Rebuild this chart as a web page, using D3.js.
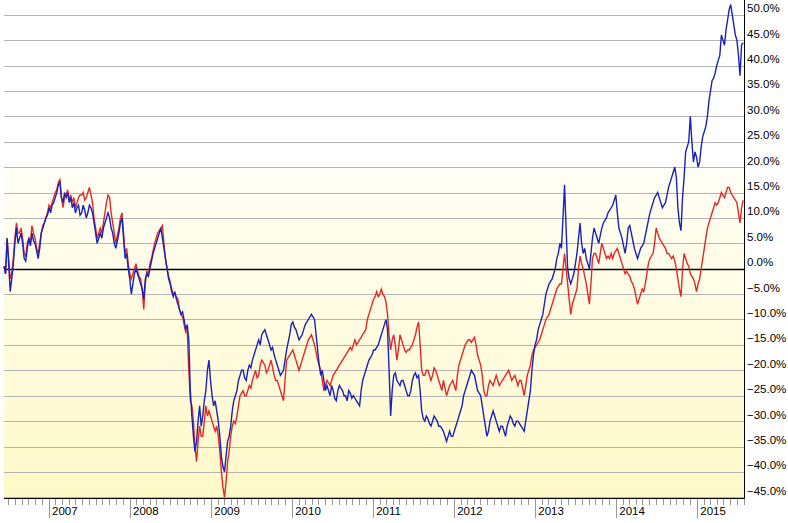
<!DOCTYPE html>
<html>
<head>
<meta charset="utf-8">
<script src="https://cdn.jsdelivr.net/npm/d3@7"></script>
<style>
  body { margin: 0; background: #ffffff; }
  text { font-family: "Liberation Sans", Arial, sans-serif; }
</style>
</head>
<body>
<svg id="chart" width="788" height="523"></svg>
<script>
// Weekly readings, starting from the first trading week shown
var startDate = "2006-06-14";
var stepDays = 7;

var blueValues = [
  0.5, -1, 6, 1, -4.5, -2, 1, 5, 8, 5, 6, 7, 5, 2, 1.5, 4, 6, 4.5, 7, 5.5,
  5, 3.5, 2, 4, 7, 8, 9, 10, 10.5, 12, 11, 12.5, 13, 14, 15, 16.5, 17, 14, 13, 15,
  14, 15, 13, 14, 12, 13, 11, 12, 12.5, 10.5, 11, 12.5, 11.5, 10, 11, 12.5, 12, 11, 9, 7,
  5, 6, 7, 6, 8, 9, 10, 11, 10, 8, 7, 5, 4, 5.5, 7, 9, 10, 6, 2, 3,
  0, -2, -5, -3, -1, 0, -1, -2, -3, -4, -6, -2, -1, -1.5, 0, 1.5, 3, 4, 5, 6,
  7, 8, 6, 4, 2, 0, -2, -3, -4.5, -5.5, -4.5, -6, -7, -8, -9, -8.5, -10, -12, -11, -14,
  -24, -29, -33, -36, -34, -30, -27, -31, -29, -26, -24, -20, -18, -22, -25, -27, -26, -28, -30, -33,
  -37, -39, -40, -37, -34, -33, -31, -28, -26, -25, -24, -22, -21, -20, -20, -21.5, -22, -20, -19, -19.5,
  -18, -17, -16, -15, -14, -15, -13, -12.5, -12, -13, -14, -15, -16, -15.5, -17, -18, -19, -20, -21, -20.5,
  -20, -18, -16, -14.5, -13, -11, -10.5, -11.5, -12, -13, -14, -13.5, -13, -12, -11, -10.5, -10, -9.5, -9, -9.5,
  -10, -13, -16, -19, -21, -20, -22, -24, -23, -24, -25, -23, -24, -25.5, -26, -24, -23, -23.5, -24, -25,
  -25, -26, -24, -24.5, -25.5, -25, -25.5, -26, -26.5, -27, -24, -22, -21, -20, -19, -18, -17.5, -17, -16, -16, -15.5,
  -15, -14, -13, -12, -11, -10, -12, -20, -29, -24, -21, -20.5, -22, -22.5, -23, -22, -22, -23, -24, -25,
  -25, -24, -22, -21, -20.5, -21.5, -21, -24, -28, -29.5, -30, -29, -29.5, -30.5, -31, -30, -29, -29.5, -30, -31,
  -31, -31.5, -32, -33, -34, -33, -32, -33, -33, -32, -31, -30, -29, -28, -27, -25, -24, -23, -22, -21,
  -20, -20.5, -21, -22.5, -24, -24.5, -25, -27, -29, -31, -33, -32, -30, -29, -28, -29, -30, -31, -32, -31,
  -31, -32, -33, -31, -30, -29, -29.5, -30.5, -31, -30, -30, -30.5, -31, -31.5, -32, -30, -28, -26, -24, -20,
  -17, -15, -14, -12, -11, -10, -9, -7, -5, -4, -3, -2.5, -2, -1, 0, 2, 3, 5, 4, 10,
  16.5, 8, 0, -2, -3, -2, -1, 1, 3, 6, 9, 5, 3, 4, 2, 1, 0, 3, 6, 8,
  7, 6, 5, 6.5, 8, 9, 9.5, 10, 11, 11.5, 12, 12.5, 13.5, 14.5, 11, 8, 7, 6, 4.5, 3, 5,
  8, 8.5, 7, 5.5, 4, 3, 2, 3, 4, 4.5, 5, 6.5, 8, 9.5, 11, 12, 13, 14, 14.5, 15,
  14, 13, 12, 12.5, 13, 14.5, 16, 17, 18, 19, 20, 18, 12, 9, 7.5, 14, 18, 23, 24, 25,
  30, 25, 21, 23, 22, 20, 21, 24, 26, 27, 28, 30, 33, 35, 37, 37.5, 38.5, 40, 41, 42,
  46, 45, 44, 47, 49, 51, 52, 50, 48, 46, 45, 42, 38, 44, 44.5
];

var redValues = [
  0.5, -1, 6, 2, -2, -1, 2, 6, 9, 7, 7, 8, 6, 3, 2.5, 5, 6, 5, 8.5, 7,
  6, 4, 3, 5, 7, 8.5, 9, 10, 11, 12.5, 12, 13, 14, 15, 15.5, 17, 17.5, 14, 12, 14,
  14.5, 15.5, 13.5, 14.5, 13, 14, 12, 13, 14, 14.5, 14.5, 15, 13.5, 14, 15, 16, 14.5, 13, 10, 8,
  6, 7, 8, 7, 9, 11, 13, 14.5, 14, 11, 9, 7, 5, 6.5, 8, 10, 11, 7, 3, 4,
  1, -1, -2, -1, 0, 1, -0.5, -1.5, -2, -4, -8, -3, -0.5, -1, 1, 2, 3.5, 5, 6, 7,
  7.5, 8, 8.5, 5, 2, 0, -1.5, -2.5, -4, -5, -5, -5.5, -6, -8, -9, -9.5, -11, -12.5, -12, -20,
  -26, -27, -30, -35, -38, -34, -31, -33, -33, -30, -27, -29, -28, -29, -30, -31, -32, -31, -33, -36,
  -40, -43, -45, -42, -38, -36, -33, -31, -30, -30.5, -29, -27, -25, -24.5, -24, -25, -25, -24, -23, -23.5,
  -22, -21, -20, -21.5, -21, -19, -18, -18.5, -19, -20.5, -20, -19, -18, -19.5, -21, -22, -22, -23, -24, -25,
  -26, -22, -18, -17.5, -17, -16.5, -16, -17, -18, -19, -20, -19, -18, -17, -16, -15, -14, -13.5, -13, -14,
  -15, -16.5, -18, -19, -20, -22, -24, -23, -22, -22.5, -23, -22, -21, -20.5, -20, -19.5, -19, -18.5, -18, -17.5,
  -17, -16.5, -16, -15.5, -16, -15, -14, -15, -14.5, -14, -13.5, -13, -12.5, -12, -10, -9, -8, -7, -6, -5.5, -4.5,
  -5.5, -5, -4, -5, -5.5, -6.5, -9, -13, -16, -14, -13, -15, -18, -16, -13, -14, -15, -16, -16.5, -16,
  -16, -15.5, -15, -14, -13, -11.5, -10.5, -15, -20, -21, -21, -20, -20, -21, -22, -21, -19.5, -20, -21, -22,
  -23, -24, -22, -23.5, -25, -24, -23, -22.5, -22, -23, -24, -21, -19, -18, -17, -16, -15, -14.5, -14, -14,
  -14.5, -14, -13.5, -15, -17, -18, -19, -21, -24, -25, -25, -23, -22, -22.5, -23, -22, -21, -22, -23, -22.5,
  -22, -21.5, -21, -20.5, -20, -21, -22, -21.5, -21, -22, -23, -22, -22, -23.5, -25, -23, -21, -20, -19, -17,
  -16, -15.5, -15, -14.5, -14, -13, -12, -11, -10, -9.5, -9, -8, -7, -6, -5, -4, -3.5, -3, -3, 0,
  3, 0, -3, -6, -9, -7, -6, -5, -4, 0, 2.5, 1, 0, -1.5, -3, -5, -7, -3, 2, 3,
  3, 2, 1, 3, 5, 4, 3, 2, 2.5, 2, 3, 2, 3, 3.5, 4, 3, 2, 1, 0, -1, -0.5,
  -1, -1.5, -2.5, -3, -4, -5.5, -7, -6, -5, -4, -4.5, -3, -1, 1, 2, 2.5, 3, 5, 8, 7,
  6, 5.5, 5, 4.5, 4, 3, 3, 2.5, 2, 2.5, 1.5, 0, -2, -4, -5.5, 0, 3, 2, 1, 0.5,
  -1, -1.5, -2, -3, -4.5, -3, -2, 0, 2, 4, 6, 8, 9, 10, 11, 12, 13, 12.5, 13, 14,
  15, 14.5, 14, 15, 16, 16, 15, 14.5, 14, 13.5, 13, 11, 9, 12, 13.5
];

var yTicks = [50, 45, 40, 35, 30, 25, 20, 15, 10, 5, 0, -5, -10, -15, -20, -25, -30, -35, -40, -45];
var domainStart = "2006-06-14";
var domainEnd = "2015-08-02";

// Layout
var plot = { left: 4, right: 744, top: 0, bottom: 498 };

var parse = d3.timeParse("%Y-%m-%d");
var t0 = parse(startDate);

function toSeries(values) {
  return values.map(function(v, i) {
    return { date: d3.timeDay.offset(t0, i * stepDays), value: v };
  });
}
var blue = toSeries(blueValues);
var red = toSeries(redValues);

var x_scale = d3.scaleTime()
  .domain([parse(domainStart), parse(domainEnd)])
  .range([plot.left, plot.right]);

var y_scale = d3.scaleLinear()
  .domain([-45, 50])
  .range([497.3, 14.7]);

var svg = d3.select("#chart");

// background gradient
var defs = svg.append("defs");
var grad = defs.append("linearGradient")
  .attr("id", "bg")
  .attr("x1", 0).attr("y1", 0).attr("x2", 0).attr("y2", 1);
grad.append("stop").attr("offset", "0").attr("stop-color", "#ffffff");
grad.append("stop").attr("offset", "0.33").attr("stop-color", "#ffffff");
grad.append("stop").attr("offset", "0.34").attr("stop-color", "#fffef4");
grad.append("stop").attr("offset", "1").attr("stop-color", "#fff9c9");

svg.append("rect")
  .attr("x", plot.left)
  .attr("y", plot.top)
  .attr("width", plot.right - plot.left)
  .attr("height", plot.bottom - plot.top)
  .attr("fill", "url(#bg)");

// gridlines
svg.append("g")
  .selectAll("line")
  .data(yTicks)
  .enter()
  .append("line")
  .attr("x1", plot.left)
  .attr("x2", plot.right)
  .attr("y1", function(d) { return Math.round(y_scale(d)) + 0.5; })
  .attr("y2", function(d) { return Math.round(y_scale(d)) + 0.5; })
  .attr("stroke", function(d) { return d === 0 ? "#000000" : "#b4b4b4"; })
  .attr("stroke-width", function(d) { return d === 0 ? 1.3 : 1; });

// right labels
svg.append("g")
  .selectAll("text")
  .data(yTicks)
  .enter()
  .append("text")
  .attr("x", 747)
  .attr("y", function(d) { return y_scale(d) - 2.5; })
  .attr("font-size", "11.5px")
  .attr("fill", "#000")
  .text(function(d) { return d3.format(".1f")(d) + "%"; });

// lines
var line = d3.line()
  .x(function(d) { return x_scale(d.date); })
  .y(function(d) { return y_scale(d.value); });

svg.append("path")
  .datum(red)
  .attr("fill", "none")
  .attr("stroke", "#e02a2a")
  .attr("stroke-width", 1.4)
  .attr("d", line);

svg.append("path")
  .datum(blue)
  .attr("fill", "none")
  .attr("stroke", "#1a22b8")
  .attr("stroke-width", 1.4)
  .attr("d", line);

// bottom axis with month ticks
var months = d3.timeMonth.range(x_scale.domain()[0], x_scale.domain()[1]);
var axis = svg.append("g");
axis.selectAll("line.tick")
  .data(months)
  .enter()
  .append("line")
  .attr("class", "tick")
  .attr("x1", function(d) { return Math.round(x_scale(d)) + 0.5; })
  .attr("x2", function(d) { return Math.round(x_scale(d)) + 0.5; })
  .attr("y1", plot.bottom)
  .attr("y2", function(d) { return d.getMonth() === 0 ? 518 : 505; })
  .attr("stroke", "#999999");

axis.selectAll("text")
  .data(months.filter(function(d) { return d.getMonth() === 0; }))
  .enter()
  .append("text")
  .attr("x", function(d) { return x_scale(d) + 3.5; })
  .attr("y", 514.5)
  .attr("font-size", "11.5px")
  .attr("fill", "#000")
  .text(function(d) { return d.getFullYear(); });

axis.append("line")
  .attr("x1", plot.left).attr("x2", plot.right + 0.5)
  .attr("y1", plot.bottom + 0.5).attr("y2", plot.bottom + 0.5)
  .attr("stroke", "#000");

// right border
svg.append("line")
  .attr("x1", plot.right + 0.5).attr("x2", plot.right + 0.5)
  .attr("y1", 0).attr("y2", plot.bottom + 0.5)
  .attr("stroke", "#000");
</script>
</body>
</html>
